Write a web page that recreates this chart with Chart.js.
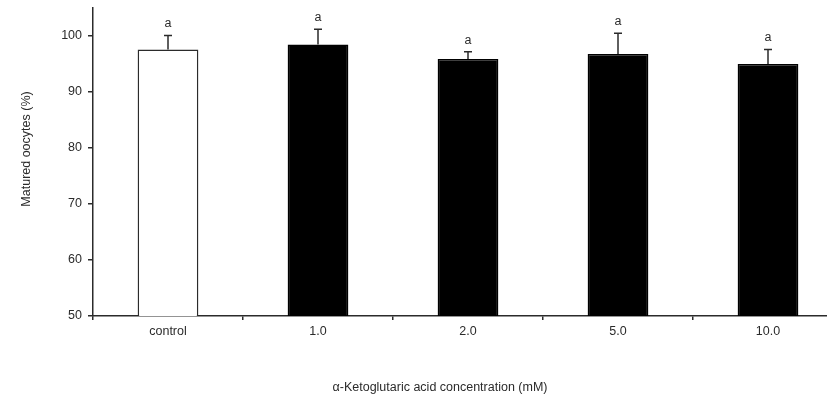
<!DOCTYPE html>
<html>
<head>
<meta charset="utf-8">
<script src="https://cdn.jsdelivr.net/npm/chart.js@4/dist/chart.umd.min.js"></script>
<style>
  html, body { margin: 0; padding: 0; background: #fff; overflow: hidden; }
  #wrap { width: 827px; height: 402px; overflow: hidden; }
</style>
</head>
<body>
<div id="wrap"><canvas id="oocyteChart" width="843" height="402"></canvas></div>
<script>
// values
const categories = ['control', '1.0', '2.0', '5.0', '10.0'];
const matured = [97.6, 98.5, 95.9, 96.8, 95.0];
const errUpper = [100.1, 101.2, 97.2, 100.5, 97.6];
const letters = ['a', 'a', 'a', 'a', 'a'];
const yTicks = [50, 60, 70, 80, 90, 100];
const xTitle = 'α-Ketoglutaric acid concentration (mM)';
const yTitle = 'Matured oocytes (%)';

const ink = '#2b2b2b';
const fontFamily = 'Liberation Sans, Arial, sans-serif';
const fontSpec = { family: fontFamily, size: 12.5 };

// upper error bars + significance letters
const errorBarPlugin = {
    id: 'errorBars',
    afterDatasetsDraw(chart) {
        const ctx = chart.ctx;
        const x = chart.scales.x;
        const y = chart.scales.y;
        ctx.save();
        ctx.strokeStyle = ink;
        ctx.lineWidth = 1.5;
        ctx.fillStyle = ink;
        ctx.font = '12.5px ' + fontFamily;
        ctx.textAlign = 'center';
        ctx.textBaseline = 'alphabetic';
        categories.forEach((c, i) => {
            const px = x.getPixelForValue(i);
            const yTop = y.getPixelForValue(errUpper[i]);
            const yBar = y.getPixelForValue(matured[i]);
            ctx.beginPath();
            ctx.moveTo(px, yBar);
            ctx.lineTo(px, yTop);
            ctx.moveTo(px - 4, yTop);
            ctx.lineTo(px + 4, yTop);
            ctx.stroke();
            ctx.fillText(letters[i], px, yTop - 8);
        });
        ctx.restore();
    }
};

// axis titles, placed where the original figure has them (a bit left / up of centre)
const axisTitlePlugin = {
    id: 'axisTitles',
    afterDraw(chart) {
        const ctx = chart.ctx;
        const area = chart.chartArea;
        ctx.save();
        ctx.fillStyle = ink;
        ctx.font = '12.5px ' + fontFamily;
        ctx.textAlign = 'center';
        ctx.textBaseline = 'middle';
        ctx.fillText(xTitle, 440, 388);
        ctx.translate(27, 149);
        ctx.rotate(-Math.PI / 2);
        ctx.fillText(yTitle, 0, 0);
        ctx.restore();
    }
};

const ctx = document.getElementById('oocyteChart').getContext('2d');
new Chart(ctx, {
    type: 'bar',
    data: {
        labels: categories,
        datasets: [{
            data: matured,
            backgroundColor: ['#ffffff', '#000000', '#000000', '#000000', '#000000'],
            borderColor: [ink, '#000000', '#000000', '#000000', '#000000'],
            borderWidth: 1.5,
            borderSkipped: 'bottom',
            barPercentage: 1,
            categoryPercentage: 0.405
        }]
    },
    options: {
        responsive: false,
        animation: false,
        layout: { padding: { left: 0, right: 0, top: 8, bottom: 0 } },
        plugins: {
            legend: { display: false },
            tooltip: { enabled: false }
        },
        scales: {
            x: {
                grid: {
                    offset: true,
                    drawOnChartArea: false,
                    tickLength: 4,
                    color: ink,
                    lineWidth: 1.5
                },
                border: { color: ink, width: 1.5 },
                ticks: { color: ink, font: fontSpec, padding: 4, maxRotation: 0 },
                afterFit(scale) { scale.height = 86; }
            },
            y: {
                min: 50,
                max: 105,
                afterBuildTicks(scale) {
                    scale.ticks = yTicks.map(v => ({ value: v }));
                },
                grid: {
                    drawOnChartArea: false,
                    tickLength: 5,
                    color: ink,
                    lineWidth: 1.5
                },
                border: { color: ink, width: 1.5 },
                ticks: { color: ink, font: fontSpec, padding: 6 },
                afterFit(scale) {
                    scale.width = 93;
                    scale.paddingTop = 0;
                    scale.paddingBottom = 0;
                }
            }
        }
    },
    plugins: [errorBarPlugin, axisTitlePlugin]
});
</script>
</body>
</html>
